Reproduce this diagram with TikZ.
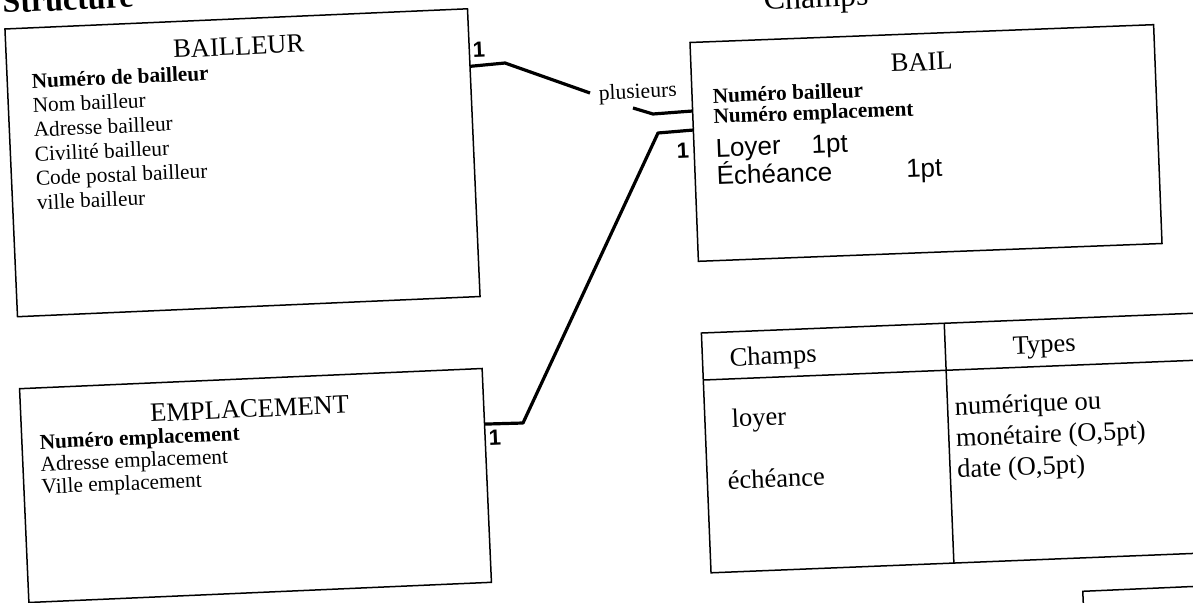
\documentclass[tikz,border=0pt]{standalone}
\usepackage{fontspec}
\setmainfont{Liberation Serif}
\newfontfamily\arialfont{Liberation Sans}
\usetikzlibrary{calc}
\newcommand\linesblock[1]{\begin{tabular}[t]{@{}l@{}}#1\end{tabular}}
\begin{document}
\begin{tikzpicture}[x=1pt,y=-1pt,
  every node/.style={inner sep=0pt, outer sep=0pt},
  box/.style={draw, line width=1.5pt, rotate=2.5},
  conn/.style={line width=3.2pt, line join=round},
  tx/.style={anchor=base west, rotate=2.5, font=\fontsize{21.3}{24}\selectfont},
  ttl/.style={anchor=base, rotate=2.5, font=\fontsize{26.5}{30}\selectfont},
  tbl/.style={anchor=base west, rotate=2.3, font=\fontsize{26.5}{30}\selectfont},
  card/.style={anchor=center, rotate=2.5, font=\arialfont\bfseries\fontsize{22}{24}\selectfont}
]
\useasboundingbox (0,0) rectangle (1193,602);

% partial headings at the top
\node[anchor=base west, rotate=2.5, font=\bfseries\fontsize{32}{36}\selectfont] (hd1) at (3,13) {Structure};
\node[anchor=base west, rotate=2.5, font=\fontsize{32}{36}\selectfont] (hd2) at (764,10) {Champs};

% boxes
\node[box, minimum width=463pt, minimum height=288pt] (bailleur) at (242.5,162.75) {};
\node[box, rotate=-0.3, minimum width=464pt, minimum height=219pt] (bail) at (926,143) {};
\node[box, minimum width=463pt, minimum height=214pt] (empl) at (255.5,485.5) {};
\node[box, rotate=-0.2, minimum width=494pt, minimum height=240pt] (table) at (953,443) {};
\node[box, minimum width=150pt, minimum height=60pt] (smallbox) at (1159,618) {};

% table rules
\draw[line width=1.5pt] ($(table.north west)!0.196!(table.south west)$) coordinate (h1) -- ($(table.north east)!0.196!(table.south east)$) coordinate (h2);
\draw[line width=1.5pt] ($(table.north west)!0.492!(table.north east)$) coordinate (v1) -- ($(table.south west)!0.492!(table.south east)$) coordinate (v2);

% BAILLEUR contents
\node[ttl] (tbailleur) at (239,55) {BAILLEUR};
\node[tx, font=\fontsize{21.3}{24.4}\selectfont] (blines) at (32,88)
  {\linesblock{\textbf{Numéro de bailleur}\\Nom bailleur\\Adresse bailleur\\Civilité bailleur\\Code postal bailleur\\ville bailleur}};

% BAIL contents
\node[ttl, rotate=-0.3] (tbail) at (922,70.5) {BAIL};
\node[tx, rotate=-0.3, font=\bfseries\fontsize{21.3}{20.5}\selectfont] (bakeys) at (713,103)
  {\linesblock{Numéro bailleur\\\smash{Numéro emplacement}}};
\node[tx, rotate=-0.3, font=\arialfont\fontsize{26}{28}\selectfont] (bavals) at (716,157)
  {\linesblock{Loyer\hspace{31pt}1pt\\\smash{Échéance}\hspace{74pt}1pt}};

% EMPLACEMENT contents
\node[ttl] (templ) at (250,417.5) {EMPLACEMENT};
\node[tx, font=\fontsize{21.3}{22.5}\selectfont] (elines) at (40,449)
  {\linesblock{\textbf{Numéro emplacement}\\\smash{Adresse emplacement}\\\smash{Ville emplacement}}};

% table contents
\node[tbl] (tc1) at (730,366) {Champs};
\node[tbl] (tc2) at (1013,354) {Types};
\node[tbl] (tc3) at (732,427) {loyer};
\node[tbl] (tc4) at (728,489) {échéance};
\node[tbl, font=\fontsize{26.5}{31.5}\selectfont] (tc5) at (955,415)
  {\linesblock{numérique ou\\monétaire (O,5pt)\\date (O,5pt)}};

% connectors
\node[anchor=base west, rotate=2.5, font=\fontsize{21.6}{24}\selectfont] (plus) at (599,100) {plusieurs};
\coordinate (c1a) at (505,63);
\coordinate (c1e) at (590,93);
\coordinate (c1b) at (633,108);
\coordinate (c1c) at (653,114);
\draw[conn] ($(bailleur.north east)!0.2!(bailleur.south east)$) -- (c1a) -- (c1e);
\draw[conn] (c1b) -- (c1c) -- ($(bail.north west)!0.313!(bail.south west)$);

\coordinate (c2a) at (523,423);
\coordinate (c2b) at (658,133);
\draw[conn] ($(empl.north east)!0.26!(empl.south east)$) -- (c2a) -- (c2b) -- ($(bail.north west)!0.40!(bail.south west)$);

% cardinalities
\node[card] (k1) at (479,50) {1};
\node[card] (k2) at (683,151) {1};
\node[card] (k3) at (495,438) {1};
\end{tikzpicture}
\end{document}
